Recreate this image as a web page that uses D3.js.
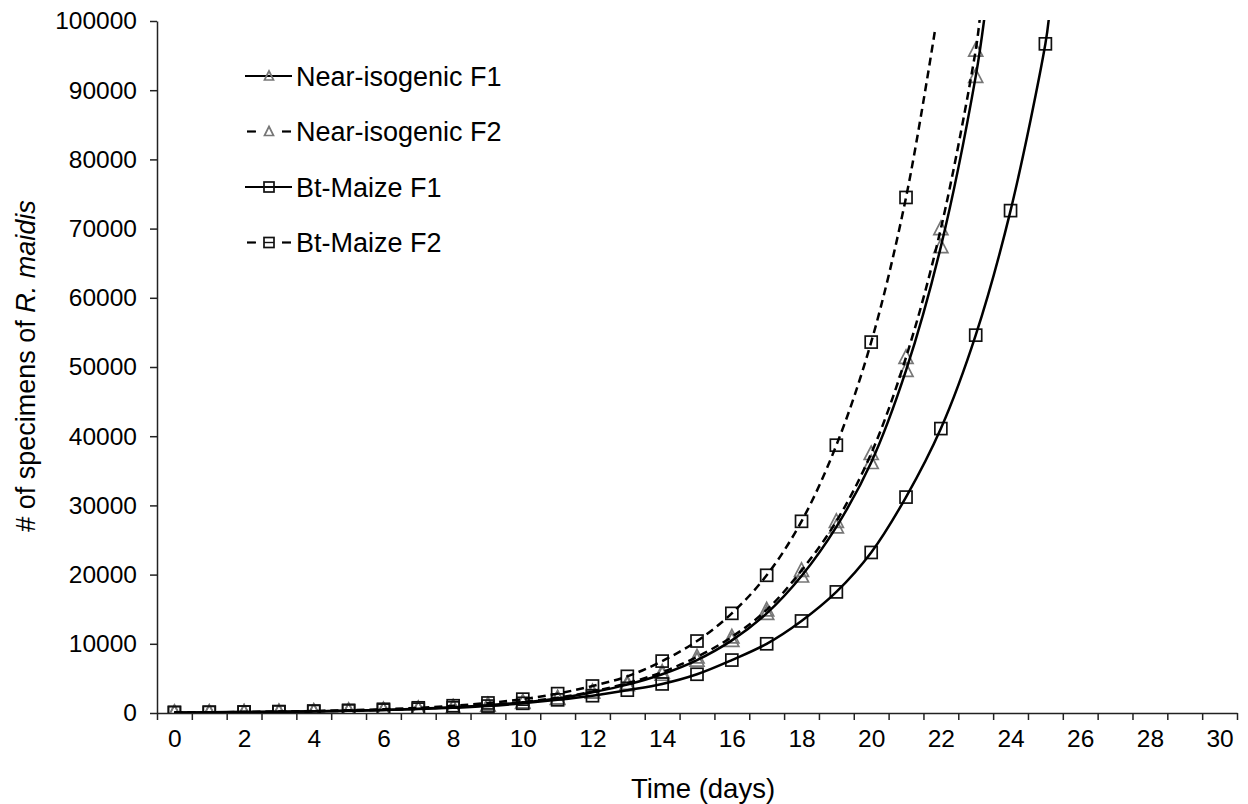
<!DOCTYPE html>
<html>
<head>
<meta charset="utf-8">
<script src="https://cdn.jsdelivr.net/npm/d3@7"></script>
<style>
  body { margin: 0; background: #fff; }
  text { font-family: "Liberation Sans", Arial, sans-serif; fill: #000; }
</style>
</head>
<body>
<svg id="chart" width="1248" height="804"></svg>
<script>
// days on the category axis
var xTickLabels = [0, 2, 4, 6, 8, 10, 12, 14, 16, 18, 20, 22, 24, 26, 28, 30];
var yTickValues = [0, 10000, 20000, 30000, 40000, 50000, 60000, 70000, 80000, 90000, 100000];

var nearF1Days = d3.range(0, 24);
var nearF1 = [70, 95, 130, 175, 240, 330, 450, 610, 830, 1130, 1540, 2100, 3000, 4100, 5600, 7650, 10500, 14400, 19800, 26900, 36200, 49500, 67400, 92000];
var nearF2Days = d3.range(0, 24);
var nearF2 = [70, 95, 130, 180, 245, 335, 460, 630, 860, 1170, 1600, 2200, 3100, 4300, 5900, 8100, 11000, 14900, 20600, 27700, 37500, 51400, 70000, 95800];
var btF1Days = d3.range(0, 26);
var btF1 = [77, 100, 130, 175, 230, 310, 420, 560, 750, 1000, 1400, 1900, 2500, 3300, 4200, 5600, 7650, 10000, 13300, 17500, 23200, 31200, 41100, 54600, 72600, 96700];
var btF2Days = d3.range(0, 22);
var btF2 = [75, 105, 145, 200, 280, 390, 540, 750, 1050, 1450, 2000, 2800, 3900, 5300, 7500, 10400, 14400, 19900, 27700, 38700, 53600, 74500];

// where each trend line leaves the frame
var nearF1End = [23.25, 100500];
var nearF2End = [23.12, 100500];
var btF1End = [25.1, 100400];
var btF2End = [21.83, 98600];

var legendNames = ["Near-isogenic F1", "Near-isogenic F2", "Bt-Maize F1", "Bt-Maize F2"];

var svg = d3.select("#chart");
var mLeft = 157, mRight = 1237, mTop = 21, mBottom = 713;

var x = d3.scaleLinear().domain([-0.5, 30.5]).range([mLeft, mRight]);
var y = d3.scaleLinear().domain([0, 100000]).range([mBottom, mTop]);

svg.append("clipPath").attr("id", "plotclip")
  .append("rect").attr("x", mLeft).attr("y", mTop - 1).attr("width", mRight - mLeft).attr("height", mBottom - mTop + 1);

// x axis: tick marks between categories, labels on every second day
var xTicks = d3.range(-0.5, 31, 1);
var gx = svg.append("g").attr("transform", "translate(0," + mBottom + ")");
gx.call(d3.axisBottom(x).tickValues(xTicks).tickFormat("").tickSize(7).tickSizeOuter(0));
var gxl = svg.append("g").attr("transform", "translate(0," + mBottom + ")");
gxl.call(d3.axisBottom(x).tickValues(xTickLabels).tickFormat(d3.format("d")).tickSize(0).tickPadding(17));
gxl.select(".domain").remove();
gxl.selectAll("text").style("font-size", "24.5px").attr("dy", "0.71em");

var gy = svg.append("g").attr("transform", "translate(" + mLeft + ",0)");
gy.call(d3.axisLeft(y).tickValues(yTickValues).tickFormat(d3.format("d")).tickSize(7).tickSizeOuter(0).tickPadding(13));
gy.selectAll("text").style("font-size", "24.5px");

svg.selectAll(".domain, .tick line").attr("stroke", "#222").attr("stroke-width", 1.5);

// axis titles
svg.append("text").attr("x", 703).attr("y", 798).attr("text-anchor", "middle")
  .style("font-size", "27.5px").text("Time (days)");
var yt = svg.append("text").attr("transform", "translate(35,366) rotate(-90)")
  .attr("text-anchor", "middle").style("font-size", "27px");
yt.append("tspan").text("# of specimens of ");
yt.append("tspan").style("font-style", "italic").text("R. maidis");

// trend lines
var line = d3.line().x(function(d) { return x(d[0]); }).y(function(d) { return y(d[1]); })
  .curve(d3.curveCatmullRom.alpha(0.5));

function pairs(ds, vs, end) {
  var p = ds.map(function(d, i) { return [d, vs[i]]; });
  p.push(end);
  return p;
}

var plot = svg.append("g").attr("clip-path", "url(#plotclip)");
var series = [
  { days: nearF1Days, vals: nearF1, end: nearF1End, dash: null, marker: "tri" },
  { days: nearF2Days, vals: nearF2, end: nearF2End, dash: "8,5", marker: "tri" },
  { days: btF1Days, vals: btF1, end: btF1End, dash: null, marker: "sq" },
  { days: btF2Days, vals: btF2, end: btF2End, dash: "8,5", marker: "sq" }
];

var triPath = "M0,-7.5L7,6L-7,6Z";

function drawMarker(g, kind, cx, cy, small) {
  if (kind === "tri") {
    g.append("path").attr("d", small ? "M0,-5L4.5,4L-4.5,4Z" : triPath)
      .attr("transform", "translate(" + cx + "," + cy + ")")
      .attr("fill", "none").attr("stroke", "#777").attr("stroke-width", 1.7);
  } else {
    var s = small ? 10 : 12;
    g.append("rect").attr("x", cx - s / 2).attr("y", cy - s / 2).attr("width", s).attr("height", s)
      .attr("fill", "none").attr("stroke", "#111").attr("stroke-width", 1.7);
    if (small) {
      g.append("line").attr("x1", cx - s / 2).attr("x2", cx + s / 2).attr("y1", cy).attr("y2", cy)
        .attr("stroke", "#111").attr("stroke-width", 1.4);
    }
  }
}

series.forEach(function(s) {
  s.days.forEach(function(d, i) { drawMarker(plot, s.marker, x(d), y(s.vals[i]), false); });
});
series.forEach(function(s) {
  plot.append("path").datum(pairs(s.days, s.vals, s.end))
    .attr("d", line).attr("fill", "none").attr("stroke", "#000")
    .attr("stroke-width", 2.5).attr("stroke-dasharray", s.dash);
});

// legend
var lg = svg.append("g");
legendNames.forEach(function(name, i) {
  var s = series[i];
  var cy = 76 + i * 55.5;
  if (s.dash) {
    lg.append("line").attr("x1", 247).attr("x2", 256).attr("y1", cy).attr("y2", cy).attr("stroke", "#000").attr("stroke-width", 2.2);
    lg.append("line").attr("x1", 282).attr("x2", 291).attr("y1", cy).attr("y2", cy).attr("stroke", "#000").attr("stroke-width", 2.2);
  } else {
    lg.append("line").attr("x1", 245).attr("x2", 292).attr("y1", cy).attr("y2", cy).attr("stroke", "#000").attr("stroke-width", 2.2);
  }
  drawMarker(lg, s.marker, 269, cy, true);
  lg.append("text").attr("x", 296).attr("y", cy).attr("dy", "0.36em")
    .style("font-size", "27px").text(name);
});
</script>
</body>
</html>
